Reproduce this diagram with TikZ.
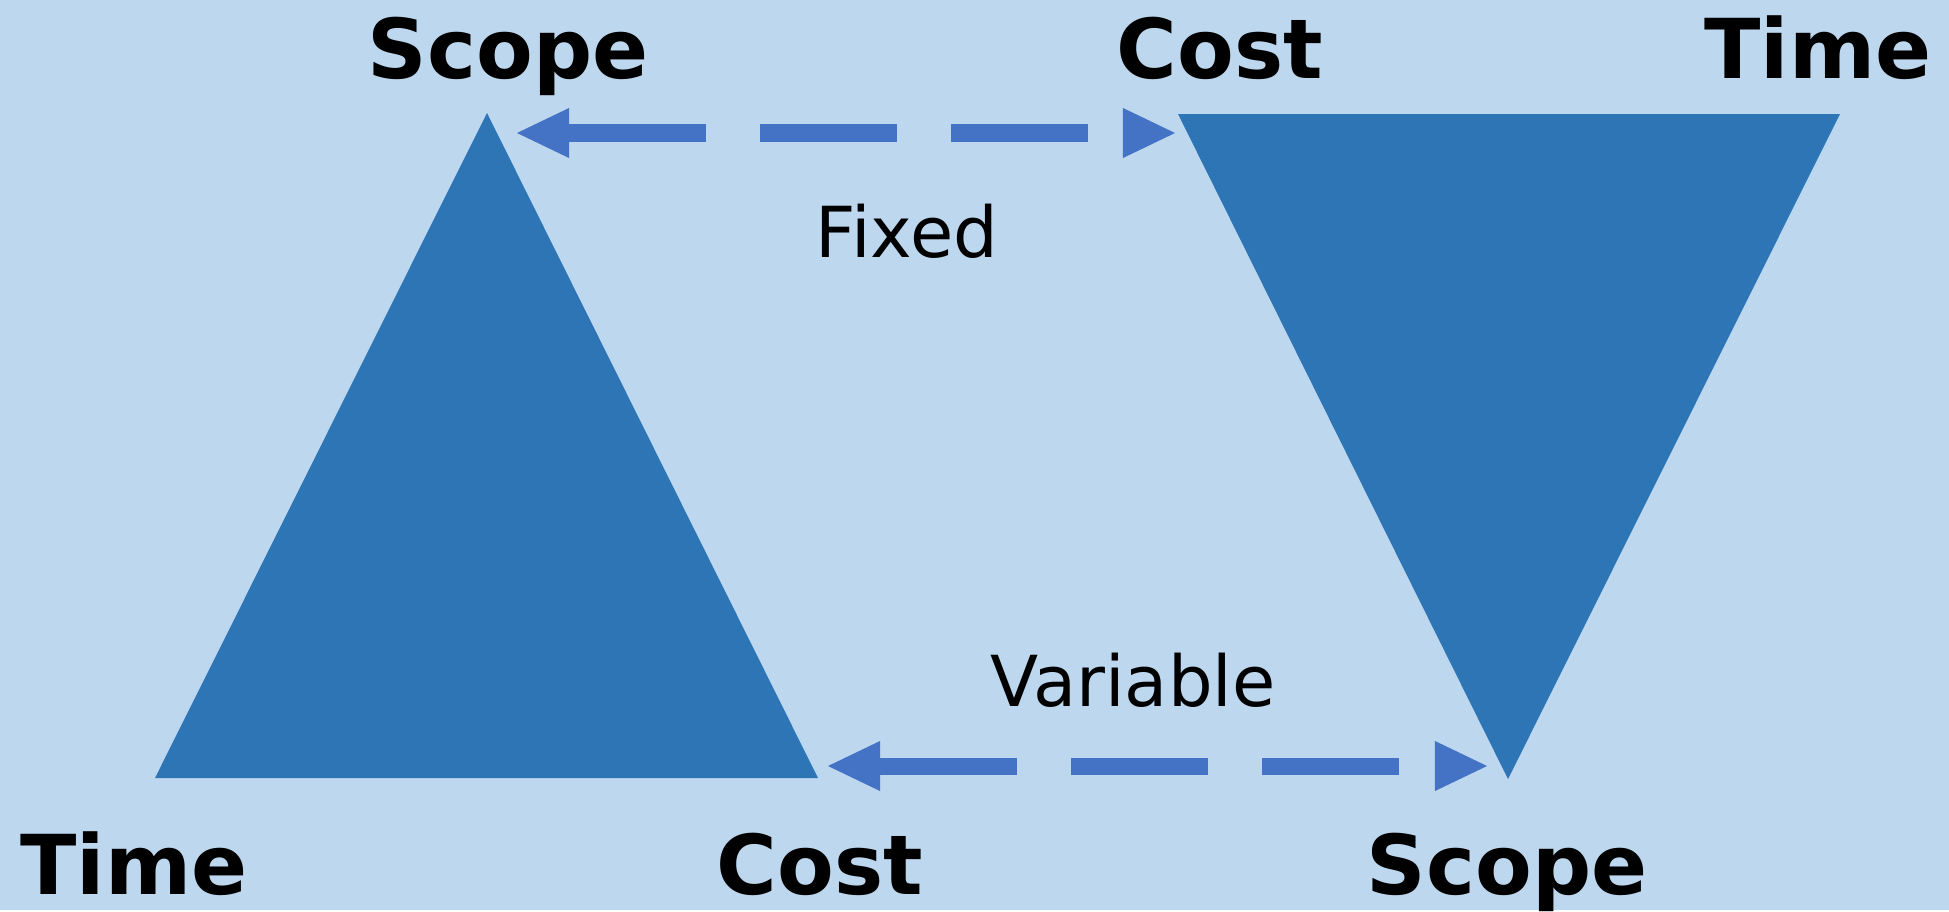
\documentclass[tikz,border=0pt]{standalone}
\usepackage{fontspec}
\setmainfont{DejaVu Sans}
\usetikzlibrary{arrows.meta}

\definecolor{bgblue}{HTML}{BDD7EE}
\definecolor{triblue}{HTML}{2E75B6}
\definecolor{linkblue}{HTML}{4472C4}

\tikzset{
  corner/.style={font=\bfseries\fontsize{23.5}{28}\selectfont, anchor=base, inner sep=0pt},
  tag/.style={font=\fontsize{20}{24}\selectfont, anchor=base, inner sep=0pt},
  link/.style={linkblue, line width=0.17cm, dash pattern=on 1.37cm off 0.54cm,
    {Triangle[length=0.52cm,width=0.5cm,line width=0pt]}-{Triangle[length=0.52cm,width=0.5cm,line width=0pt]}}
}

\def\uptriangle{(upTop) -- (upLeft) -- (upRight) -- cycle}
\def\downtriangle{(downLeft) -- (downRight) -- (downBottom) -- cycle}

\begin{document}
\begin{tikzpicture}[x=0.01cm, y=-0.01cm]
  \fill[bgblue] (0,0) rectangle (1949,910);

  \coordinate (upTop) at (487,113);
  \coordinate (upLeft) at (155,778);
  \coordinate (upRight) at (818,778);
  \coordinate (downLeft) at (1178,114);
  \coordinate (downRight) at (1840,114);
  \coordinate (downBottom) at (1508,779);

  \fill[triblue] \uptriangle;
  \fill[triblue] \downtriangle;

  % arrows between the triangles
  \coordinate (fixedL) at (517,133);
  \coordinate (fixedR) at (1175,133);
  \coordinate (varL) at (828,766);
  \coordinate (varR) at (1487,766);
  \draw[link] (fixedL) -- (fixedR);
  \draw[link] (varL) -- (varR);

  \node[tag] (fixed) at (907,257) {Fixed};
  \node[tag] (variable) at (1133,706) {Variable};

  \node[corner] (scopeTop) at (508,78) {Scope};
  \node[corner] (costTop) at (1220,78) {Cost};
  \node[corner] (timeTop) at (1818,78) {Time};
  \node[corner] (timeBot) at (134,894) {Time};
  \node[corner] (costBot) at (820,894) {Cost};
  \node[corner] (scopeBot) at (1507,894) {Scope};

\end{tikzpicture}
\end{document}
